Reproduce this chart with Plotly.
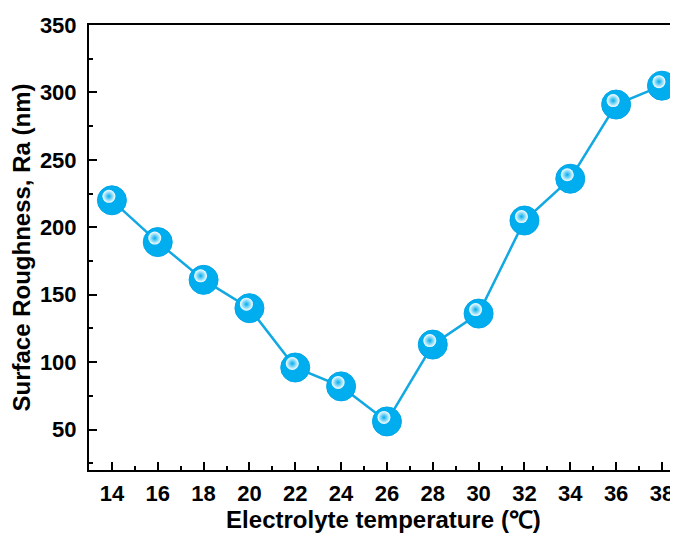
import plotly.graph_objects as go

temps = [14, 16, 18, 20, 22, 24, 26, 28, 30, 32, 34, 36, 38]
ra = [220, 189, 161, 140, 96, 82, 56, 113, 136, 205, 236, 291, 305]

blue = "#00AEEF"
font = "Liberation Sans, Arial, sans-serif"
xr = [13, 38.7]
yr = [20, 350]

fig = go.Figure()
fig.add_trace(go.Scatter(
    x=temps, y=ra, mode="lines+markers",
    line=dict(color="#12A8E2", width=2.5),
    marker=dict(size=29, color=blue, line=dict(color="#03A5E6", width=1)),
    showlegend=False, hoverinfo="skip"))
# specular highlight, slightly offset up-left via shifted overlay axes
fig.add_trace(go.Scatter(
    x=temps, y=ra, mode="markers", xaxis="x3", yaxis="y2",
    marker=dict(size=13, color="white", line=dict(width=0),
                gradient=dict(type="radial", color=blue)),
    showlegend=False, hoverinfo="skip"))
# invisible trace on top axis for the top frame line
fig.add_trace(go.Scatter(x=[temps[0]], y=[ra[0]], xaxis="x2", mode="markers",
                         marker=dict(opacity=0), showlegend=False, hoverinfo="skip"))

axis_common = dict(showline=True, linecolor="black", linewidth=2, showgrid=False,
                   zeroline=False, ticks="inside", tickcolor="black", tickwidth=2,
                   ticklen=8, automargin=False)

dx = 3 / 22.9
dy = 4 / 1.35

fig.update_layout(
    width=670, height=527,
    margin=dict(l=81, r=0, t=17, b=65),
    plot_bgcolor="white", paper_bgcolor="white",
    font=dict(family=font, color="black"),
    xaxis=dict(**axis_common, range=xr, tick0=14, dtick=2,
               minor=dict(ticks="inside", ticklen=4, tickwidth=2, tickcolor="black", dtick=1, tick0=13),
               ticklabelstandoff=3,
               tickfont=dict(size=22, family=font, weight="bold"),
               title=dict(text="Electrolyte temperature (℃)", standoff=6,
                          font=dict(size=24, family=font, weight="bold"))),
    xaxis2=dict(overlaying="x", side="top", range=xr, showline=True,
                linecolor="black", linewidth=2, showticklabels=False, ticks="",
                showgrid=False, zeroline=False),
    xaxis3=dict(overlaying="x", range=[xr[0] + dx, xr[1] + dx], visible=False),
    yaxis2=dict(overlaying="y", range=[yr[0] - dy, yr[1] - dy], visible=False),
    yaxis=dict(**axis_common, range=yr, tick0=0, dtick=50,
               minor=dict(ticks="inside", ticklen=4, tickwidth=2, tickcolor="black", dtick=25),
               ticklabelstandoff=6,
               tickfont=dict(size=22, family=font, weight="bold"),
               title=dict(text="Surface Roughness, Ra (nm)", standoff=10,
                          font=dict(size=24, family=font, weight="bold"))),
)

fig.write_html("out.html")
